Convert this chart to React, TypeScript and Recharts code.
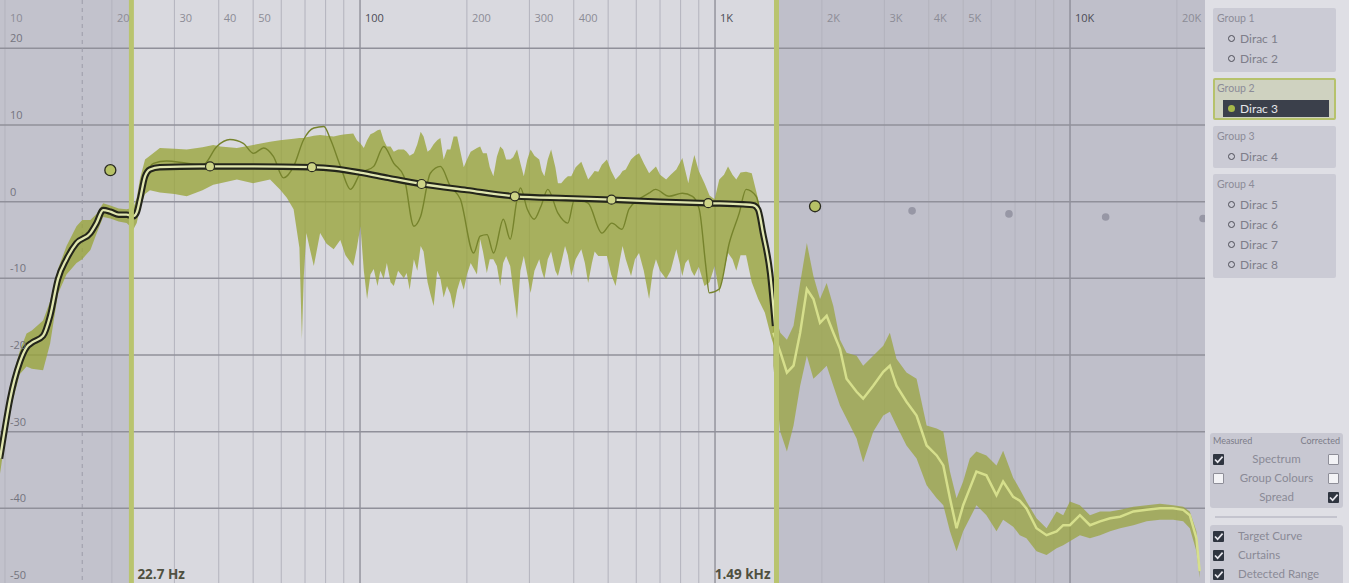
import React from 'react';
import { ComposedChart, Line, Area, XAxis, YAxis, ReferenceArea, ReferenceLine } from 'recharts';

// axis ranges
const FREQ_MIN = 9.68;
const FREQ_MAX = 24000;
const DB_MIN = -50;
const DB_MAX = 26.3;

// grid + labels
const gridFreqs = [10, 20, 30, 40, 50, 60, 70, 80, 90, 100, 200, 300, 400, 500, 600, 700, 800, 900,
  1000, 2000, 3000, 4000, 5000, 6000, 7000, 8000, 9000, 10000, 20000];
const decadeFreqs = [100, 1000, 10000];
const labelFreqs = [10, 20, 30, 40, 50, 100, 200, 300, 400, 1000, 2000, 3000, 4000, 5000, 10000, 20000];
const freqLabels = ['10', '20', '30', '40', '50', '100', '200', '300', '400', '1K', '2K', '3K', '4K', '5K', '10K', '20K'];
const dbTicks = [20, 10, 0, -10, -20, -30, -40, -50];
const dbGrid = [20, 10, 0, -10, -20, -30, -40];

// curtains / detected range
const curtainLow = 22.7;
const curtainHigh = 1490;
const detectedLow = 16.5;

// target curve [Hz, dB]
const target: [number, number][] = [
  [9.68, -33.5], [10.0, -29.5], [10.33, -25.8], [11.02, -20.9], [11.5, -19.0], [11.9, -18.4],
  [12.8, -17.5], [13.4, -14.9], [14.1, -10.1], [14.9, -7.5], [15.9, -5.4], [17.4, -4.1],
  [18.1, -2.8], [18.9, -1.1], [19.8, -1.3], [20.9, -1.7], [22.0, -1.7], [23.0, -1.9],
  [23.5, -1.4], [24.0, 0.3], [24.8, 3.3], [25.6, 4.2], [27.3, 4.5], [35.4, 4.6], [50, 4.6],
  [73.2, 4.5], [85, 4.3], [100, 3.8], [120, 3.1], [149.1, 2.3], [200, 1.5], [273, 0.7],
  [380, 0.45], [511, 0.26], [700, 0.0], [957, -0.2], [1200, -0.35], [1280, -0.45],
  [1322, -1.0], [1365, -4.1], [1429, -9.3], [1476, -16.2],
];

// target handles
const handleFreqs = [37.8, 73.2, 149.1, 273, 511, 957];
const handleDb = [4.6, 4.5, 2.3, 0.7, 0.26, -0.2];
const freeHandleFreqs = [19.8, 1913];
const freeHandleDb = [4.1, -0.6];
const idleHandleFreqs = [3590, 6730, 12600, 23700];
const idleHandleDb = [-1.2, -1.6, -2.0, -2.2];

// measured response (thin line) [Hz, dB]
const measured: [number, number][] = [
  [24.0, 0.3], [25.0, 3.5], [26.2, 5.0], [28.5, 5.3], [32.5, 5.0], [36.1, 4.8], [39.5, 7.2],
  [43.0, 8.1], [46.9, 7.6], [50.1, 6.3], [53.5, 7.0], [57.0, 5.9], [60.9, 3.1], [65.0, 4.6],
  [69.4, 8.1], [74.1, 9.6], [79.1, 9.8], [82.6, 8.1], [88.1, 4.6], [94.0, 1.6], [100.3, 3.7],
  [109.3, 4.6], [116.6, 7.2], [124.5, 5.0], [132.9, 3.3], [141.8, -3.2], [148.2, -1.9],
  [157.8, 3.7], [168.4, 4.6], [179.7, 2.0], [191.8, 0.3], [208.9, -6.7], [218, -4.5],
  [228, -4.3], [237.8, -6.7], [253.4, -2.3], [264.9, -4.9], [276.9, 0.3], [283.1, 1.8],
  [296, -1.0], [309.4, -2.3], [323.4, -0.6], [338, 1.6], [361, -1.5], [385, -2.8], [402, 0.3],
  [439, -0.2], [480, -4.1], [512, -2.8], [547, -3.6], [572, -1.0], [610, 0.3], [651, 1.1],
  [680, 1.6], [742, 0.7], [809, 1.1], [864, 0.7], [903, -1.0], [942, -8.4], [963, -11.9],
  [1028, -11.4], [1097, -5.4], [1170, -1.5], [1223, 1.6], [1305, 0.7], [1363, -3.2],
  [1423, -8.4], [1460, -13.0],
];

// measured spread [Hz, low dB, high dB]
const measuredSpread: [number, number, number][] = [
  [9.68, -35.5, -31.5], [10.0, -31.0, -27.5], [10.33, -27.3, -24.0], [11.0, -22.5, -19.5],
  [11.5, -21.5, -17.2], [11.9, -21.8, -16.8], [12.8, -22.0, -15.5], [13.4, -18.5, -13.0],
  [14.1, -12.0, -8.8], [14.9, -9.5, -5.8], [15.9, -8.0, -3.2], [16.5, -7.5, -2.4],
  [17.4, -6.3, -2.4], [18.1, -4.2, -1.6], [18.9, -2.0, -0.2], [19.8, -2.2, -0.5],
  [20.9, -2.6, -0.9], [22.0, -2.8, -1.0], [23.0, -3.6, -0.8], [23.5, -2.8, 0.5],
  [24.0, -0.8, 3.0], [24.8, 1.0, 5.5], [25.6, 1.5, 6.0], [27.3, 1.2, 7.0], [30, 1.0, 6.9],
  [32.5, 0.7, 6.8], [36, 1.5, 7.1], [38.6, 2.2, 7.4], [40.4, 2.4, 7.2], [45, 2.9, 7.0],
  [50, 2.4, 7.4], [55.8, 2.9, 7.8], [59.5, 1.6, 8.0], [62.2, 0.5, 8.1], [65, -1.0, 8.2],
  [67.5, -6.0, 8.3], [68.6, -17.9, 8.3], [69.4, -10.0, 8.3], [70.6, -4.1, 8.4],
  [72.5, -6.5, 8.5], [74.1, -8.4, 8.6], [77.2, -4.1, 8.7], [80.5, -5.5, 8.6],
  [84.3, -6.2, 8.5], [88, -5.0, 8.7], [91, -7.0, 8.8], [95.7, -8.4, 8.9], [98, -6.0, 8.0],
  [100.3, -3.2, 7.6], [102.5, -9.0, 7.0], [104.7, -12.7, 8.0], [107, -9.5, 8.8],
  [109.3, -8.8, 9.0], [112, -11.0, 9.3], [114.1, -9.0, 9.4], [116.6, -10.1, 8.0],
  [119, -8.0, 7.2], [121.9, -10.5, 7.2], [124.5, -11.0, 6.5], [128, -9.0, 6.8],
  [132.9, -10.0, 6.8], [135.3, -9.3, 6.5], [138, -11.5, 6.0], [141.8, -7.5, 6.3],
  [145, -9.0, 7.5], [148.2, -5.8, 9.1], [151, -6.5, 8.5], [155, -10.5, 6.5],
  [157.8, -12.0, 6.8], [161.2, -13.6, 7.5], [165, -9.0, 8.0], [168.4, -10.0, 8.3],
  [172, -12.5, 5.5], [175.8, -11.0, 6.8], [179.7, -12.0, 6.8], [183.5, -14.0, 8.5],
  [187.8, -11.5, 8.5], [191.8, -10.1, 6.5], [196, -11.5, 4.5], [200.1, -9.5, 5.5],
  [205, -8.0, 6.5], [213.5, -9.5, 7.0], [218, -4.9, 7.2], [222, -6.5, 6.3],
  [227.6, -9.3, 6.3], [232, -7.5, 4.5], [237.5, -7.5, 3.3], [243, -8.4, 5.9],
  [248.3, -11.0, 7.2], [253, -8.0, 6.8], [258, -7.1, 5.5], [264.9, -8.4, 5.5],
  [270, -11.5, 5.8], [276.9, -15.3, 6.8], [283, -9.0, 5.0], [289.3, -7.1, 3.3],
  [296, -9.5, 5.5], [302.3, -11.9, 6.8], [310, -9.0, 6.0], [319.8, -7.5, 5.5],
  [325, -9.0, 4.0], [330.6, -10.1, 3.3], [338, -7.5, 5.5], [345.4, -6.5, 6.8],
  [355, -9.0, 4.5], [361, -9.7, 2.4], [368.7, -8.0, 2.4], [378, -5.8, 3.0], [385, -7.0, 3.3],
  [393.6, -9.7, 3.3], [405, -7.5, 4.5], [420.1, -6.2, 5.2], [430, -8.0, 4.0],
  [439.2, -10.6, 2.9], [450, -8.0, 3.5], [458, -6.5, 4.0], [469.1, -7.1, 3.9],
  [480, -7.1, 4.8], [496, -7.1, 5.5], [510, -9.5, 4.0], [524.6, -11.0, 2.9],
  [540, -7.5, 3.5], [549, -5.8, 4.0], [560.5, -7.5, 4.2], [580, -9.7, 5.5], [595, -7.5, 6.0],
  [610.9, -6.7, 6.3], [630, -9.0, 5.0], [652.1, -12.7, 3.7], [668, -9.0, 4.2],
  [681.7, -7.5, 4.6], [700, -9.0, 3.5], [728.3, -10.1, 2.9], [750, -9.0, 3.5],
  [778, -6.2, 4.2], [795, -8.0, 5.0], [808.8, -9.7, 5.7], [825, -8.0, 4.0], [841, -7.5, 2.4],
  [858, -9.0, 4.5], [874.5, -9.7, 6.1], [900, -8.5, 4.0], [934, -11.0, 2.4],
  [965, -10.5, 0.8], [997.6, -8.4, 0.3], [1028, -11.9, 2.9], [1060, -9.0, 3.5],
  [1088, -6.7, 4.6], [1120, -7.5, 3.5], [1148, -9.0, 2.9], [1180, -7.0, 3.8],
  [1223, -7.0, 3.9], [1269, -10.5, 3.7], [1323, -12.7, 0.3], [1382, -14.5, -6.2],
  [1444, -17.9, -12.7], [1470, -19.0, -14.0],
];

// corrected response [Hz, mean dB, low dB, high dB]
const corrected: [number, number, number, number][] = [
  [1459, -17.1, -21.4, -14.0], [1527, -19.6, -30.0, -17.1], [1594, -22.3, -32.6, -18.0],
  [1664, -21.4, -29.2, -16.2], [1737, -17.1, -24.0, -10.6], [1814, -11.4, -20.1, -5.4],
  [1893, -12.7, -23.1, -9.7], [1976, -15.8, -22.3, -12.7], [2063, -14.9, -21.4, -10.6],
  [2154, -17.1, -24.0, -13.6], [2249, -19.2, -26.6, -18.0], [2347, -23.1, -28.3, -19.7],
  [2505, -24.8, -30.9, -20.1], [2614, -25.7, -34.0, -21.4], [2790, -24.0, -30.0, -20.1],
  [2978, -22.2, -27.9, -18.8], [3108, -21.4, -27.4, -17.1], [3244, -24.0, -29.2, -20.5],
  [3462, -26.1, -31.8, -22.3], [3696, -27.9, -33.5, -23.1], [3945, -31.8, -37.0, -29.2],
  [4211, -33.1, -38.7, -29.6], [4396, -34.4, -39.6, -30.0], [4589, -38.7, -43.0, -35.2],
  [4790, -42.6, -45.6, -38.7], [5000, -39.6, -43.0, -36.5], [5220, -37.4, -41.3, -33.5],
  [5449, -35.2, -39.6, -32.6], [5814, -35.7, -40.9, -33.1], [6207, -38.3, -43.0, -34.4],
  [6480, -36.5, -41.5, -32.5], [6916, -38.5, -42.4, -36.0], [7220, -39.0, -43.5, -37.5],
  [7537, -40.0, -43.9, -39.1], [8045, -42.6, -45.6, -41.3], [8587, -43.5, -46.1, -42.6],
  [9166, -43.0, -45.2, -40.4], [9568, -42.2, -44.8, -40.9], [9989, -42.2, -44.3, -39.1],
  [10663, -40.9, -43.5, -39.6], [11382, -42.2, -43.9, -40.9], [12150, -41.7, -43.5, -40.4],
  [12969, -41.3, -43.0, -40.4], [13844, -41.1, -42.6, -40.2], [15085, -40.4, -42.2, -39.8],
  [16437, -40.2, -41.7, -39.6], [17913, -40.0, -41.5, -39.4], [19517, -40.0, -41.5, -39.6],
  [20834, -40.2, -41.7, -39.8], [21748, -40.9, -42.6, -40.4], [22700, -43.9, -45.6, -43.0],
  [23175, -48.2, -49.1, -47.4],
];

// side panel content
const groups = [
  { name: 'Group 1', items: ['Dirac 1', 'Dirac 2'] },
  { name: 'Group 2', items: ['Dirac 3'], active: true },
  { name: 'Group 3', items: ['Dirac 4'] },
  { name: 'Group 4', items: ['Dirac 5', 'Dirac 6', 'Dirac 7', 'Dirac 8'] },
];
const spectrumOptions = [
  { label: 'Spectrum', measured: true, corrected: false },
  { label: 'Group Colours', measured: false, corrected: false },
  { label: 'Spread', measured: null, corrected: true },
];
const overlayOptions = ['Target Curve', 'Curtains', 'Detected Range'];

const lg = (f: number) => Math.log10(f);

const targetRows = target.map(([f, db]) => ({ lf: lg(f), db }));
const measuredRows = measured.map(([f, db]) => ({ lf: lg(f), db }));
const spreadRows = measuredSpread.map(([f, lo, hi]) => ({ lf: lg(f), lo, hi }));
const correctedRows = corrected.map(([f, db, lo, hi]) => ({ lf: lg(f), db, lo, hi }));
const handleRows = handleFreqs.map((f, i) => ({ lf: lg(f), db: handleDb[i] }));
const freeHandleRows = freeHandleFreqs.map((f, i) => ({ lf: lg(f), db: freeHandleDb[i] }));
const idleHandleRows = idleHandleFreqs.map((f, i) => ({ lf: lg(f), db: idleHandleDb[i] }));

const FONT = '"Open Sans", Lato, sans-serif';

const FreqTick = ({ x, payload }: any) => {
  const i = labelFreqs.findIndex((f) => Math.abs(lg(f) - payload.value) < 1e-6);
  if (i < 0) return <g />;
  const dark = decadeFreqs.includes(labelFreqs[i]);
  return (
    <text x={x + 5} y={22} fontSize={11} fontFamily={FONT} fill={dark ? '#4c4c56' : '#8c8c96'}>
      {freqLabels[i]}
    </text>
  );
};

const DbTick = ({ y, payload }: any) => (
  <text x={10} y={y - 6} fontSize={11} fontFamily={FONT} fill="#74747e">
    {payload.value}
  </text>
);

function CheckBox({ checked }: { checked: boolean }) {
  return (
    <div
      style={{
        width: 11,
        height: 11,
        boxSizing: 'border-box',
        background: checked ? '#2f3540' : '#f3f3f6',
        border: checked ? 'none' : '1px solid #8e8e98',
        borderRadius: 1,
      }}
    >
      {checked && (
        <svg width="11" height="11" style={{ display: 'block' }}>
          <path d="M2 5.5 L4.6 8.2 L9.6 2.6" stroke="#e6e6ec" strokeWidth="1.7" fill="none" />
        </svg>
      )}
    </div>
  );
}

function SidePanel() {
  let top = 8;
  const boxes = groups.map((g) => {
    const h = 22 + g.items.length * 20 + (g.items.length > 1 ? 2 : 0);
    const el = (
      <div
        key={g.name}
        style={{
          position: 'absolute',
          left: 8,
          top,
          width: 123,
          height: h,
          boxSizing: 'border-box',
          background: g.active ? '#cfd2c0' : '#cbcbd5',
          border: g.active ? '2px solid #b6c26c' : 'none',
          borderRadius: 2,
        }}
      >
        <div style={{ position: 'absolute', left: g.active ? 2 : 4, top: g.active ? 2 : 4, fontSize: 10.5, color: '#8c8c98' }}>
          {g.name}
        </div>
        {g.items.map((it, j) => (
          <div
            key={it}
            style={{
              position: 'absolute',
              left: g.active ? 8 : 10,
              top: (g.active ? 20 : 22) + j * 20,
              width: g.active ? 106 : 110,
              height: 17,
              background: g.active ? '#3b404b' : 'transparent',
              display: 'flex',
              alignItems: 'center',
              fontSize: 12,
              color: g.active ? '#e6e6ea' : '#7e7e8a',
            }}
          >
            <span
              style={{
                display: 'inline-block',
                width: 7,
                height: 7,
                borderRadius: '50%',
                boxSizing: 'border-box',
                border: g.active ? 'none' : '1.6px solid #4e4e58',
                background: g.active ? '#a7b84a' : 'transparent',
                marginLeft: 5,
                marginRight: 5,
              }}
            />
            {it}
          </div>
        ))}
      </div>
    );
    top += h + 6;
    return el;
  });

  return (
    <div style={{ position: 'absolute', left: 1205, top: 0, width: 144, height: 583, background: '#dfdfe5', fontFamily: 'Lato, "Open Sans", sans-serif' }}>
      {boxes}
      <div style={{ position: 'absolute', left: 5, top: 433, width: 133, height: 75, background: '#c8c8d2', borderRadius: 3 }}>
        <div style={{ position: 'absolute', left: 3, top: 2, fontSize: 9, color: '#7c7c88' }}>Measured</div>
        <div style={{ position: 'absolute', right: 3, top: 2, fontSize: 9, color: '#7c7c88' }}>Corrected</div>
        {spectrumOptions.map((o, i) => (
          <div key={o.label} style={{ position: 'absolute', left: 0, top: 21 + i * 19, width: 133, height: 12 }}>
            {o.measured !== null && (
              <div style={{ position: 'absolute', left: 3, top: 0 }}>
                <CheckBox checked={o.measured} />
              </div>
            )}
            <div style={{ position: 'absolute', left: 0, width: 133, top: -2, textAlign: 'center', fontSize: 11.5, color: '#8a8a96' }}>
              {o.label}
            </div>
            <div style={{ position: 'absolute', right: 4, top: 0 }}>
              <CheckBox checked={o.corrected} />
            </div>
          </div>
        ))}
      </div>
      <div style={{ position: 'absolute', left: 10, top: 516, width: 122, height: 2, background: '#c4c4ce' }} />
      <div style={{ position: 'absolute', left: 5, top: 525, width: 133, height: 62, background: '#c8c8d2', borderRadius: 3 }}>
        {overlayOptions.map((o, i) => (
          <div key={o} style={{ position: 'absolute', left: 3, top: 6 + i * 19, height: 12, width: 128 }}>
            <CheckBox checked />
            <div style={{ position: 'absolute', left: 25, top: -2, fontSize: 11.5, color: '#8a8a96', whiteSpace: 'nowrap' }}>{o}</div>
          </div>
        ))}
      </div>
    </div>
  );
}

export default function App() {
  return (
    <div style={{ position: 'relative', width: 1349, height: 583, overflow: 'hidden', background: '#dfdfe5' }}>
      <style>{'body{margin:0}'}</style>
      <ComposedChart width={1205} height={585} margin={{ top: 0, right: 0, bottom: 0, left: 0 }}>
        <XAxis
          type="number"
          dataKey="lf"
          domain={[lg(FREQ_MIN), lg(FREQ_MAX)]}
          allowDataOverflow
          ticks={labelFreqs.map(lg)}
          interval={0}
          orientation="top"
          mirror
          axisLine={false}
          tickLine={false}
          tick={FreqTick}
        />
        <YAxis
          type="number"
          domain={[DB_MIN, DB_MAX]}
          allowDataOverflow
          ticks={dbTicks}
          interval={0}
          mirror
          axisLine={false}
          tickLine={false}
          tick={DbTick}
        />

        {/* curtains */}
        <ReferenceArea x1={lg(FREQ_MIN)} x2={lg(curtainLow)} fill="#c2c2cc" fillOpacity={1} stroke="none" zIndex={-300} />
        <ReferenceArea x1={lg(curtainLow)} x2={lg(curtainHigh)} fill="#d9d9df" fillOpacity={1} stroke="none" zIndex={-300} />
        <ReferenceArea x1={lg(curtainHigh)} x2={lg(FREQ_MAX)} fill="#bfbfca" fillOpacity={1} stroke="none" zIndex={-300} />

        {/* grid */}
        {gridFreqs.map((f) => (
          <ReferenceLine
            key={'v' + f}
            x={lg(f)}
            stroke={decadeFreqs.includes(f) ? '#8a8a94' : '#b3b3bd'}
            strokeWidth={decadeFreqs.includes(f) ? 1.3 : 1}
            zIndex={-200}
          />
        ))}
        {dbGrid.map((d) => (
          <ReferenceLine key={'h' + d} y={d} stroke="#90909a" strokeWidth={1.5} zIndex={-200} />
        ))}
        <ReferenceLine x={lg(detectedLow)} stroke="#9c9ca8" strokeDasharray="4 4" zIndex={-200} />

        {/* spread */}
        <Area
          data={spreadRows}
          dataKey={(d: any) => [d.lo, d.hi]}
          type="linear"
          fill="#98a43a"
          fillOpacity={0.78}
          stroke="none"
          dot={false}
          activeDot={false}
          isAnimationActive={false}
          zIndex={100}
        />
        <Area
          data={correctedRows}
          dataKey={(d: any) => [d.lo, d.hi]}
          type="linear"
          fill="#98a43a"
          fillOpacity={0.72}
          stroke="none"
          dot={false}
          activeDot={false}
          isAnimationActive={false}
          zIndex={100}
        />

        {/* responses */}
        <Line data={measuredRows} dataKey="db" type="monotone" stroke="#76832c" strokeWidth={1.4} dot={false} activeDot={false} isAnimationActive={false} zIndex={200} />
        <Line data={correctedRows} dataKey="db" type="linear" stroke="#d6df8c" strokeWidth={2.5} dot={false} activeDot={false} isAnimationActive={false} zIndex={200} />

        {/* target */}
        <Line data={targetRows} dataKey="db" type="monotone" stroke="#24261b" strokeWidth={6.5} dot={false} activeDot={false} isAnimationActive={false} zIndex={300} />
        <Line data={targetRows} dataKey="db" type="monotone" stroke="#e1e7b0" strokeWidth={2.3} dot={false} activeDot={false} isAnimationActive={false} zIndex={300} />

        <ReferenceLine
          x={lg(curtainLow)}
          stroke="#b9c46f"
          strokeWidth={5}
          zIndex={400}
          label={{ value: '22.7 Hz', position: 'insideBottomLeft', offset: 6, fill: '#4f5040', fontSize: 13.5, fontWeight: 700, fontFamily: FONT }}
        />
        <ReferenceLine
          x={lg(curtainHigh)}
          stroke="#b9c46f"
          strokeWidth={5}
          zIndex={400}
          label={{ value: '1.49 kHz', position: 'insideBottomRight', offset: 6, fill: '#4f5040', fontSize: 13.5, fontWeight: 700, fontFamily: FONT }}
        />

        {/* handles */}
        <Line data={handleRows} dataKey="db" stroke="none" dot={{ r: 4.5, fill: '#cdd487', stroke: '#2a2b20', strokeWidth: 1.2 }} activeDot={false} isAnimationActive={false} zIndex={500} />
        <Line data={freeHandleRows} dataKey="db" stroke="none" dot={{ r: 5.5, fill: '#b6c166', stroke: '#2a2b20', strokeWidth: 1.3 }} activeDot={false} isAnimationActive={false} zIndex={500} />
        <Line data={idleHandleRows} dataKey="db" stroke="none" dot={{ r: 3.8, fill: '#9797a5', stroke: 'none' }} activeDot={false} isAnimationActive={false} zIndex={500} />
      </ComposedChart>
      <SidePanel />
    </div>
  );
}
